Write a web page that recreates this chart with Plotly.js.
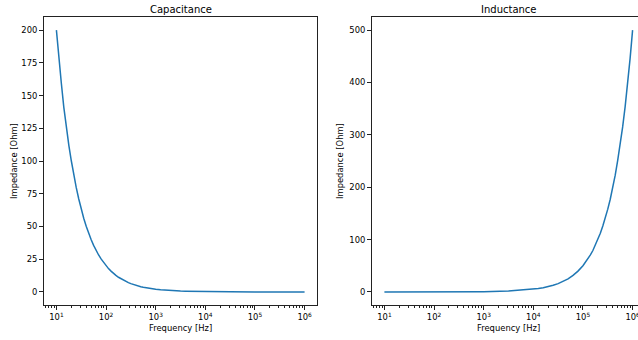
<!DOCTYPE html>
<html><head><meta charset="utf-8">
<script src="https://cdn.plot.ly/plotly-3.0.1.min.js"></script>
<style>html,body{margin:0;padding:0;overflow:hidden;background:#fff}#plot{width:660px;height:340px}</style>
</head><body><div id="plot"></div>
<script>
// Capacitance panel
const capFreq = [10, 11.2, 12.6, 14.1, 15.8, 17.8, 20, 22.4, 25, 28.2, 31.6, 35.5, 40, 44.7, 50, 56.2, 63, 70.8, 80, 89.1, 100, 112, 126, 141, 158, 178, 200, 224, 251, 282, 316, 355, 398, 447, 501, 562, 631, 708, 794, 891, 1000, 1259, 1585, 1995, 2512, 3162, 3981, 5012, 6310, 7943, 10000, 31623, 100000, 316228, 1000000];
const capImp  = [200, 178, 159, 141, 126, 112, 100, 89, 80, 71, 63, 56.3, 50, 44.7, 40, 35.6, 31.7, 28.2, 25, 22.4, 20, 17.8, 15.9, 14.1, 12.6, 11.2, 10, 8.9, 8, 7.1, 6.3, 5.6, 5, 4.5, 4, 3.6, 3.2, 2.8, 2.5, 2.2, 2, 1.6, 1.26, 1, 0.8, 0.63, 0.5, 0.4, 0.32, 0.25, 0.2, 0.063, 0.02, 0.0063, 0.002];
// Inductance panel
const indFreq = [10, 100, 1000, 3162, 10000, 12589, 15849, 19953, 25119, 31623, 39811, 50119, 63096, 79433, 100000, 112202, 125893, 141254, 158489, 177828, 199526, 223872, 251189, 281838, 316228, 354813, 398107, 446684, 501187, 562341, 630957, 707946, 794328, 891251, 1000000];
const indImp  = [0.005, 0.05, 0.5, 1.58, 5, 6.3, 7.9, 10, 12.6, 15.8, 19.9, 25, 31.5, 39.7, 50, 56.1, 63, 70.6, 79, 89, 100, 112, 126, 141, 158, 177, 199, 223, 251, 281, 315, 354, 397, 446, 500];
const xTickVals = [10, 100, 1000, 10000, 100000, 1000000];
const xTickText = ['10<sup>1</sup>', '10<sup>2</sup>', '10<sup>3</sup>', '10<sup>4</sup>', '10<sup>5</sup>', '10<sup>6</sup>'];
const capTicks = [0, 25, 50, 75, 100, 125, 150, 175, 200];
const indTicks = [0, 100, 200, 300, 400, 500];
const titles = ['Capacitance', 'Inductance'];
const xTitle = 'Frequency [Hz]';
const yTitle = 'Impedance [Ohm]';

const font = {family: 'DejaVu Sans', size: 8.4, color: '#000'};
const titleFont = {family: 'DejaVu Sans', size: 10, color: '#000'};
const lineColor = '#1f77b4';

const traces = [
  {x: capFreq, y: capImp, type: 'scatter', mode: 'lines', line: {color: lineColor, width: 1.5}, xaxis: 'x', yaxis: 'y', hoverinfo: 'skip'},
  {x: indFreq, y: indImp, type: 'scatter', mode: 'lines', line: {color: lineColor, width: 1.5}, xaxis: 'x2', yaxis: 'y2', hoverinfo: 'skip'}
];

function xax(domain, anchor) {
  return {
    type: 'log', domain: domain, anchor: anchor, range: [0.75, 6.25],
    tickvals: xTickVals, ticktext: xTickText, ticks: 'outside', ticklen: 4, tickcolor: '#222',
    showline: true, linecolor: '#222', linewidth: 1, mirror: true, showgrid: false, zeroline: false,
    tickfont: font,
    minor: {dtick: 'D1', ticks: 'outside', ticklen: 2, tickcolor: '#222', showgrid: false}
  };
}
function yax(range, ticks, anchor) {
  return {
    domain: [0, 1], anchor: anchor, range: range, tickvals: ticks,
    ticks: 'outside', ticklen: 4, tickcolor: '#222',
    showline: true, linecolor: '#222', linewidth: 1, mirror: true, showgrid: false, zeroline: false,
    tickfont: font
  };
}

const d1 = [0, 273/601];
const d2 = [328/601, 1];
function ann(text, x, y, opts) {
  return Object.assign({text: text, xref: 'paper', yref: 'paper', x: x, y: y, xanchor: 'center', yanchor: 'middle', showarrow: false, font: font}, opts);
}
const layout = {
  width: 660, height: 340,
  margin: {l: 44, r: 15, t: 17, b: 35},
  paper_bgcolor: '#fff', plot_bgcolor: '#fff',
  showlegend: false,
  xaxis: xax(d1, 'y'),
  yaxis: yax([-10, 210], capTicks, 'x'),
  xaxis2: xax(d2, 'y2'),
  yaxis2: yax([-25, 525], indTicks, 'x2'),
  annotations: [
    ann(titles[0], (d1[0]+d1[1])/2, 1, {yshift: 8, font: titleFont}),
    ann(titles[1], (d2[0]+d2[1])/2, 1, {yshift: 8, font: titleFont}),
    ann(xTitle, (d1[0]+d1[1])/2, 0, {yshift: -23}),
    ann(xTitle, (d2[0]+d2[1])/2, 0, {yshift: -23}),
    ann(yTitle, d1[0], 0.5, {xshift: -30, textangle: -90}),
    ann(yTitle, d2[0], 0.5, {xshift: -32, textangle: -90})
  ]
};
Plotly.newPlot('plot', traces, layout, {staticPlot: true, displayModeBar: false});
</script></body></html>
